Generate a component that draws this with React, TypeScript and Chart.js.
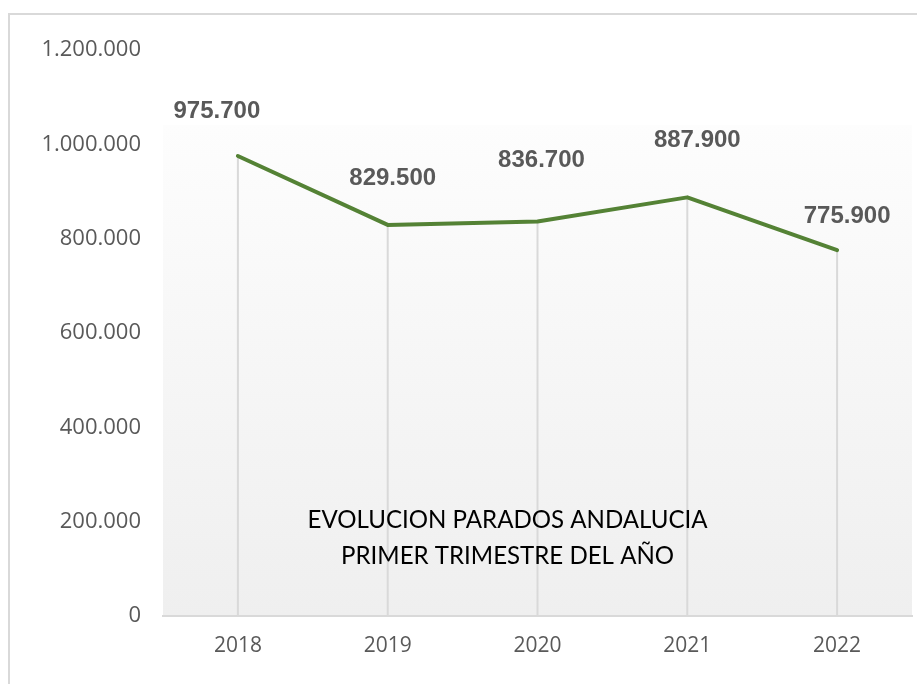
import React, { useEffect, useRef } from "react";
import { Chart, registerables } from "chart.js";

Chart.register(...registerables);

const YEARS = ["2018", "2019", "2020", "2021", "2022"];
const PARADOS = [975700, 829500, 836700, 887900, 775900];
const Y_MIN = 0;
const Y_MAX = 1200000;
const Y_STEP = 200000;
const TITLE_LINES = ["EVOLUCION PARADOS ANDALUCIA", "PRIMER TRIMESTRE DEL AÑO"];

const fmt = (v: number) =>
  String(Math.round(v)).replace(/\B(?=(\d{3})+(?!\d))/g, ".");

const decorPlugin = {
  id: "decor",
  beforeDraw(chart: any) {
    const { ctx, chartArea } = chart;
    const { left, right, top, bottom } = chartArea;
    const h = bottom - top;
    const bgTop = top + 0.132 * h;
    const g = ctx.createLinearGradient(0, bgTop, 0, bottom);
    g.addColorStop(0, "#fdfdfd");
    g.addColorStop(1, "#efefef");
    ctx.save();
    ctx.fillStyle = g;
    ctx.fillRect(left, bgTop, right - left, bottom - bgTop);
    ctx.restore();
  },
  beforeDatasetsDraw(chart: any) {
    const { ctx, chartArea } = chart;
    const meta = chart.getDatasetMeta(0);
    ctx.save();
    ctx.strokeStyle = "#d9d9d9";
    ctx.lineWidth = 2;
    meta.data.forEach((p: any) => {
      ctx.beginPath();
      ctx.moveTo(p.x, p.y);
      ctx.lineTo(p.x, chartArea.bottom);
      ctx.stroke();
    });
    ctx.restore();
  },
  afterDatasetsDraw(chart: any, _args: any, opts: any) {
    const { ctx, chartArea } = chart;
    const meta = chart.getDatasetMeta(0);
    const offsets: number[][] = opts.labelOffsets || [];
    ctx.save();
    ctx.fillStyle = "#595959";
    ctx.font = 'bold 24px "Liberation Sans", Arial, sans-serif';
    ctx.textAlign = "center";
    ctx.textBaseline = "middle";
    meta.data.forEach((p: any, i: number) => {
      const o = offsets[i] || [0, -45];
      ctx.fillText(fmt(PARADOS[i]), p.x + o[0], p.y + o[1]);
    });
    ctx.restore();

    // title inside plot area
    const { left, right, top, bottom } = chartArea;
    const w = right - left;
    const h = bottom - top;
    const cx = left + 0.46 * w;
    ctx.save();
    ctx.font = '25px Lato, "Noto Sans", sans-serif';
    ctx.fillStyle = "#000000";
    ctx.textAlign = "center";
    ctx.textBaseline = "alphabetic";
    const natural = ctx.measureText(TITLE_LINES[0]).width;
    const sx = 400 / natural;
    const baselines = [0.8436, 0.9086];
    TITLE_LINES.forEach((line, i) => {
      ctx.save();
      ctx.translate(cx, top + baselines[i] * h);
      ctx.scale(sx, 1);
      ctx.fillText(line, 0, 0);
      ctx.restore();
    });
    ctx.restore();
  },
};

export default function App() {
  const ref = useRef<HTMLCanvasElement>(null);

  useEffect(() => {
    if (!ref.current) return;
    const chart = new Chart(ref.current, {
      type: "line",
      data: {
        labels: YEARS,
        datasets: [
          {
            data: PARADOS,
            borderColor: "#548235",
            borderWidth: 4,
            pointRadius: 0,
            pointHoverRadius: 0,
            tension: 0,
            borderCapStyle: "round",
            borderJoinStyle: "round",
            fill: false,
          },
        ],
      },
      options: {
        responsive: false,
        animation: false,
        events: [],
        layout: { padding: { top: 32, right: 5, left: 0, bottom: 0 } },
        plugins: {
          legend: { display: false },
          tooltip: { enabled: false },
          title: { display: false },
          decor: {
            labelOffsets: [
              [-21, -45],
              [5, -47],
              [4, -61],
              [10, -57],
              [10, -34],
            ],
          },
        } as any,
        scales: {
          x: {
            type: "category",
            offset: true,
            grid: { display: false, drawTicks: false },
            border: { display: true, color: "#d9d9d9", width: 2 },
            ticks: {
              color: "#595959",
              font: { family: '"Open Sans", sans-serif', size: 21 },
              padding: 17,
            },
            afterFit: (s: any) => {
              s.height = 68;
            },
          },
          y: {
            min: Y_MIN,
            max: Y_MAX,
            grid: { display: false, drawTicks: false },
            border: { display: false },
            ticks: {
              stepSize: Y_STEP,
              color: "#595959",
              font: { family: '"Open Sans", sans-serif', size: 22 },
              padding: 22,
              callback: (v: any) => fmt(Number(v)),
            },
            afterFit: (s: any) => {
              s.width = 153;
            },
          },
        },
      },
      plugins: [decorPlugin],
    });
    return () => chart.destroy();
  }, []);

  return (
    <div
      style={{
        position: "fixed",
        left: 8,
        top: 13,
        width: 920,
        height: 680,
        borderTop: "2px solid #d9d9d9",
        borderLeft: "2px solid #d9d9d9",
        background: "#ffffff",
      }}
    >
      <canvas
        ref={ref}
        width={907}
        height={669}
        style={{ display: "block", width: 907, height: 669 }}
      />
    </div>
  );
}
